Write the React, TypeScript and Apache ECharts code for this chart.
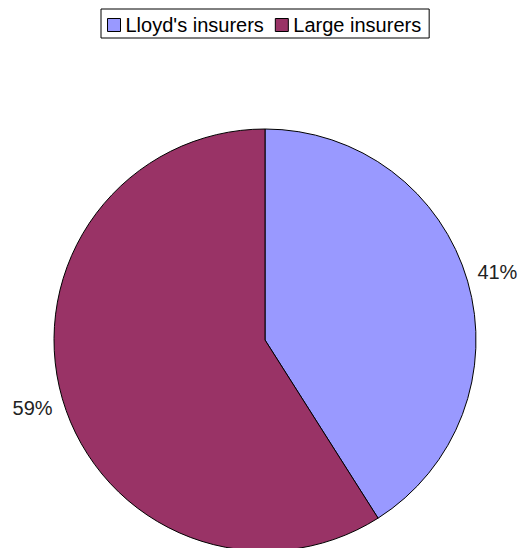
import React, { useEffect, useRef } from "react";
import * as echarts from "echarts";

const categories = ["Lloyd's insurers", "Large insurers"];
const values = [41, 59];
const colors = ["#9999FF", "#993366"];

export default function App() {
  const ref = useRef<HTMLDivElement>(null);
  useEffect(() => {
    if (!ref.current) return;
    const chart = echarts.init(ref.current, null, { renderer: "svg" });
    const data = categories.map((name, i) => ({
      name,
      value: values[i],
      itemStyle: { color: colors[i] },
    }));
    const font = "'Liberation Sans', Arial, sans-serif";
    chart.setOption({
      animation: false,
      backgroundColor: "#ffffff",
      legend: {
        data: categories,
        left: 101,
        top: 9,
        orient: "horizontal",
        padding: [6, 8, 3, 6],
        itemGap: 11,
        itemWidth: 13,
        itemHeight: 13,
        borderColor: "#000",
        borderWidth: 1,
        borderRadius: 0,
        icon: "rect",
        itemStyle: { borderColor: "#000", borderWidth: 1 },
        textStyle: { fontFamily: font, fontSize: 20, color: "#000" },
        selectedMode: false,
      },
      series: [
        {
          type: "pie",
          center: [265, 340],
          radius: [0, 211],
          startAngle: 90,
          clockwise: true,
          silent: true,
          data,
          itemStyle: { borderColor: "#000", borderWidth: 1 },
          label: { show: false },
          labelLine: { show: false },
        },
        {
          type: "pie",
          center: [265, 340],
          radius: [229, 249],
          startAngle: 90,
          clockwise: true,
          silent: true,
          data: categories.map((name, i) => ({ name, value: values[i] })),
          itemStyle: { color: "transparent", borderWidth: 0 },
          label: {
            show: true,
            position: "inside",
            formatter: "{d}%",
            fontFamily: font,
            fontSize: 20,
            color: "#222",
          },
          labelLine: { show: false },
        },
      ],
    });
    return () => chart.dispose();
  }, []);
  return (
    <div
      ref={ref}
      style={{ position: "fixed", left: 0, top: 0, width: 519, height: 548 }}
    />
  );
}
